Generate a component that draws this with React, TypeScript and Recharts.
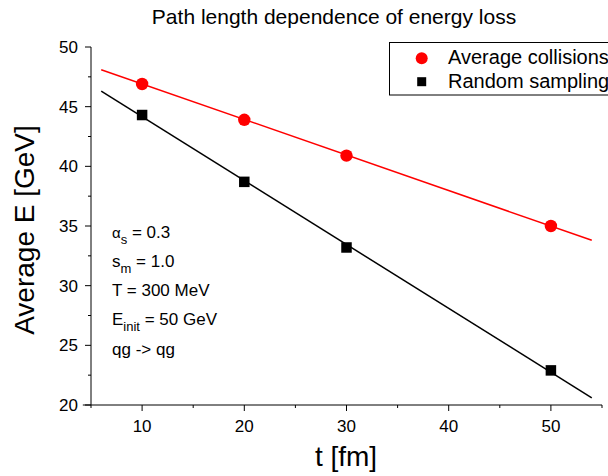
import React from 'react';
import { ComposedChart, Line, Scatter, XAxis, YAxis, ReferenceLine, Customized } from 'recharts';

// ---- data ----
const tValues = [10, 20, 30, 50];
const averageCollisions = [46.9, 43.9, 40.9, 35.0];
const randomSampling = [44.3, 38.7, 33.2, 22.9];

// fitted straight lines (end points)
const fitT = [6, 54];
const averageFit = [48.1, 33.8];
const randomFit = [46.3, 20.6];

const xTicks = [5, 10, 15, 20, 25, 30, 35, 40, 45, 50, 55];
const xMajor = [10, 20, 30, 40, 50];
const yTicks = [20, 22.5, 25, 27.5, 30, 32.5, 35, 37.5, 40, 42.5, 45, 47.5, 50];
const yMajor = [20, 25, 30, 35, 40, 45, 50];

const seriesNames = ['Average collisions', 'Random sampling'];

const avgPoints = tValues.map((t, i) => ({ t, e: averageCollisions[i] }));
const rndPoints = tValues.map((t, i) => ({ t, e: randomSampling[i] }));
const avgLine = fitT.map((t, i) => ({ t, e: averageFit[i] }));
const rndLine = fitT.map((t, i) => ({ t, e: randomFit[i] }));

const FONT = '"Liberation Sans", Arial, sans-serif';

const XTick = (props: any) => {
  const { x, y, payload } = props;
  const major = xMajor.includes(payload.value);
  return (
    <g>
      <line x1={x} y1={y} x2={x} y2={y + (major ? 6 : 3)} stroke="#000" strokeWidth={1} />
      {major && (
        <text x={x} y={y + 27} textAnchor="middle" fontSize={17} fontFamily={FONT} fill="#000">
          {payload.value}
        </text>
      )}
    </g>
  );
};

const YTick = (props: any) => {
  const { x, y, payload } = props;
  const major = yMajor.includes(payload.value);
  return (
    <g>
      <line x1={x} y1={y} x2={x - (major ? 6 : 3)} y2={y} stroke="#000" strokeWidth={1} />
      {major && (
        <text x={x - 13} y={y + 6} textAnchor="end" fontSize={17} fontFamily={FONT} fill="#000">
          {payload.value}
        </text>
      )}
    </g>
  );
};

const Circle = (props: any) => <circle cx={props.cx} cy={props.cy} r={6.2} fill="#ff0000" />;
const Square = (props: any) => (
  <rect x={props.cx - 5.25} y={props.cy - 5.25} width={10.5} height={10.5} fill="#000" />
);

const Decorations = () => (
  <g fontFamily={FONT} fill="#000">
    <text x={334} y={23.5} textAnchor="middle" fontSize={21}>
      Path length dependence of energy loss
    </text>
    <text x={0} y={0} textAnchor="middle" fontSize={28} transform="translate(34,230) rotate(-90)">
      Average E [GeV]
    </text>
    <text x={346} y={466} textAnchor="middle" fontSize={28}>
      t [fm]
    </text>
    {/* legend */}
    <rect x={389.5} y={42.5} width={230} height={52.5} fill="#fff" stroke="#000" strokeWidth={1} />
    <circle cx={421.7} cy={58.3} r={6} fill="#ff0000" />
    <text x={448} y={64.3} fontSize={20}>{seriesNames[0]}</text>
    <rect x={417.2} y={77.2} width={9} height={9} fill="#000" />
    <text x={448} y={87.5} fontSize={20}>{seriesNames[1]}</text>
    {/* parameters */}
    <g fontSize={17}>
      <text x={112} y={238}>
        <tspan fontSize={15}>α</tspan>
        <tspan fontSize={13} dy={6}>s</tspan>
        <tspan dy={-6}> = 0.3</tspan>
      </text>
      <text x={112} y={267}>
        s<tspan fontSize={13} dy={6}>m</tspan>
        <tspan dy={-6}> = 1.0</tspan>
      </text>
      <text x={112} y={296}>T = 300 MeV</text>
      <text x={112} y={325}>
        E<tspan fontSize={13} dy={6}>init</tspan>
        <tspan dy={-6}> = 50 GeV</tspan>
      </text>
      <text x={112} y={355}>qg -&gt; qg</text>
    </g>
  </g>
);

export default function App() {
  return (
    <div style={{ position: 'absolute', left: 0, top: 0, width: 608, height: 476, background: '#fff' }}>
      <ComposedChart
        width={608}
        height={476}
        margin={{ top: 47, right: 6, bottom: 41, left: 0 }}
      >
        <XAxis
          dataKey="t"
          type="number"
          domain={[5, 55]}
          ticks={xTicks}
          interval={0}
          tickSize={0}
          tickMargin={0}
          tick={<XTick />}
          height={30}
          stroke="#000"
          allowDuplicatedCategory={false}
        />
        <YAxis
          dataKey="e"
          type="number"
          domain={[20, 50]}
          ticks={yTicks}
          interval={0}
          tickSize={0}
          tickMargin={0}
          tick={<YTick />}
          width={91}
          stroke="#000"
        />
        <ReferenceLine
          segment={[{ x: 4.2, y: 20 }, { x: 5, y: 20 }]}
          stroke="#000"
          strokeWidth={1}
          ifOverflow="visible"
        />
        <Line
          data={avgLine}
          dataKey="e"
          stroke="#ff0000"
          strokeWidth={1.5}
          dot={false}
          isAnimationActive={false}
          legendType="none"
        />
        <Line
          data={rndLine}
          dataKey="e"
          stroke="#000"
          strokeWidth={1.5}
          dot={false}
          isAnimationActive={false}
          legendType="none"
        />
        <Scatter name={seriesNames[0]} data={avgPoints} dataKey="e" shape={<Circle />} isAnimationActive={false} />
        <Scatter name={seriesNames[1]} data={rndPoints} dataKey="e" shape={<Square />} isAnimationActive={false} />
        <Customized component={<Decorations />} />
      </ComposedChart>
    </div>
  );
}
